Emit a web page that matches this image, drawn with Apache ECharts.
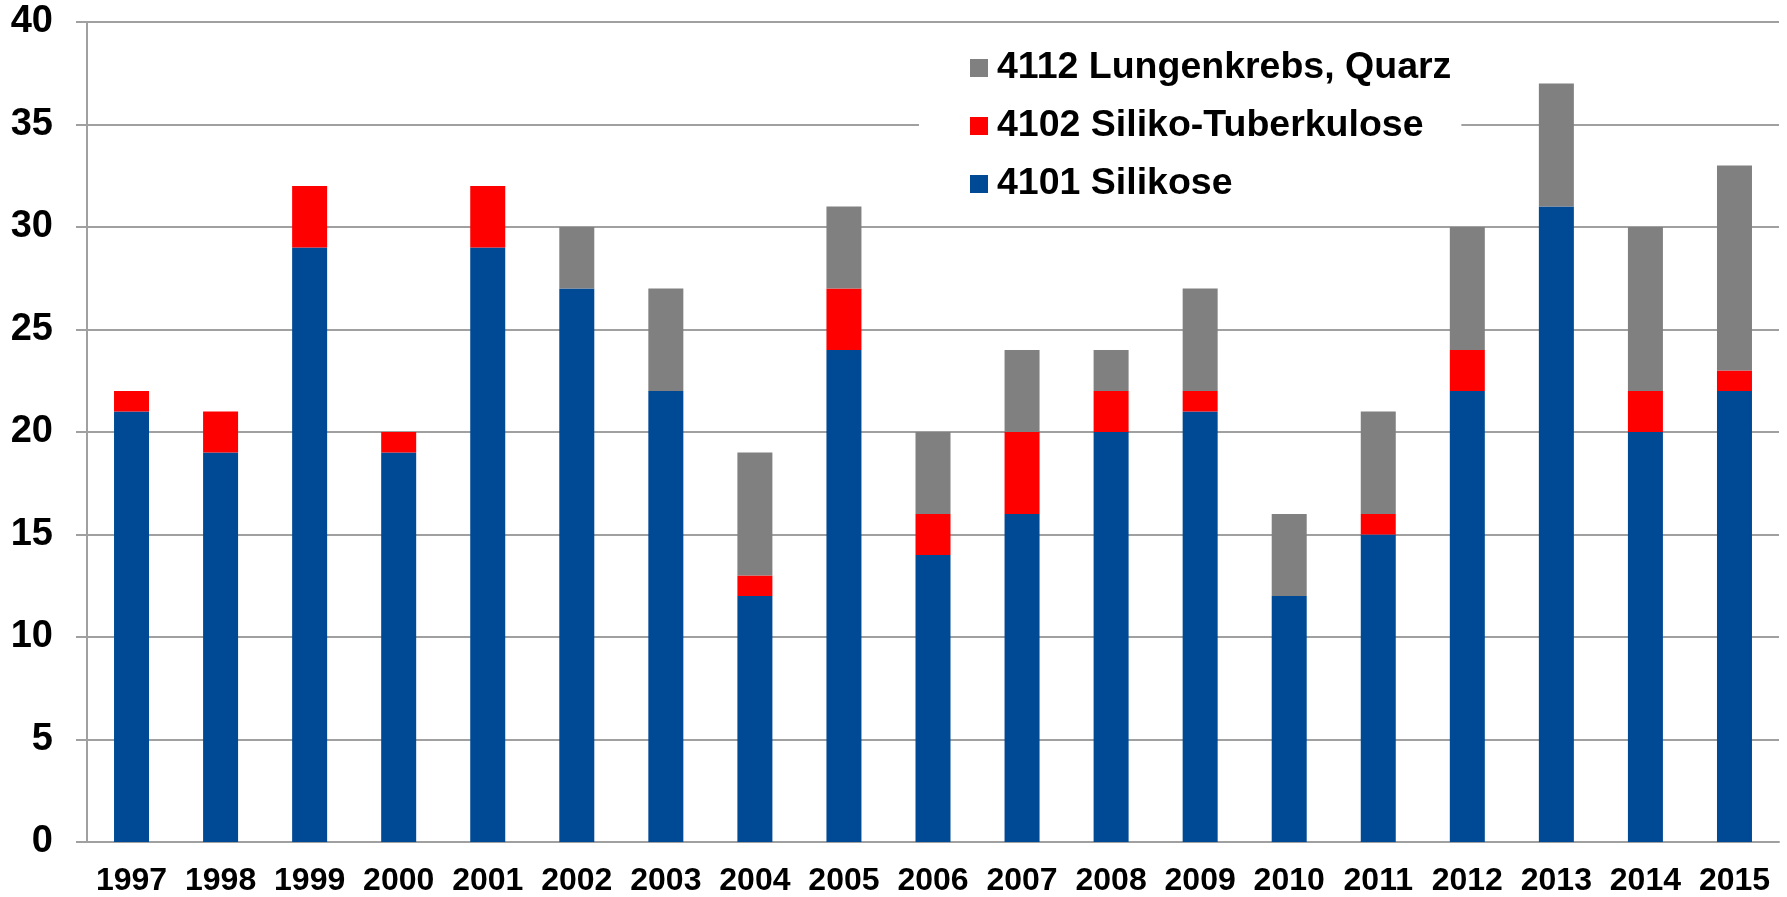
<!DOCTYPE html>
<html>
<head>
<meta charset="utf-8">
<script src="https://cdn.jsdelivr.net/npm/echarts@6/dist/echarts.min.js"></script>
<style>
  html, body { margin: 0; padding: 0; background: #fff; }
  #main { width: 1787px; height: 897px; }
</style>
</head>
<body>
<div id="main"></div>
<script>
var years = ['1997', '1998', '1999', '2000', '2001', '2002', '2003', '2004', '2005', '2006',
             '2007', '2008', '2009', '2010', '2011', '2012', '2013', '2014', '2015'];
// 4101 Silikose
var silikose = [21, 19, 29, 19, 29, 27, 22, 12, 24, 14, 16, 20, 21, 12, 15, 22, 31, 20, 22];
// 4102 Siliko-Tuberkulose
var tuberkulose = [1, 2, 3, 1, 3, 0, 0, 1, 3, 2, 4, 2, 1, 0, 1, 2, 0, 2, 1];
// 4112 Lungenkrebs, Quarz
var lungenkrebs = [0, 0, 0, 0, 0, 3, 5, 6, 4, 4, 4, 2, 5, 4, 5, 6, 6, 8, 10];

var names = ['4101 Silikose', '4102 Siliko-Tuberkulose', '4112 Lungenkrebs, Quarz'];
var font = '"Liberation Sans", Arial, sans-serif';
var lineGray = '#A0A0A0';

var myChart = echarts.init(document.getElementById('main'));
myChart.setOption({
    animation: false,
    textStyle: { fontFamily: font },
    legend: {
        data: [names[2], names[1], names[0]],
        orient: 'vertical',
        left: 919,
        top: 38,
        padding: [10, 10, 10, 51],
        itemGap: 18,
        itemWidth: 18,
        itemHeight: 18,
        icon: 'rect',
        backgroundColor: '#fff',
        textStyle: {
            fontFamily: font,
            fontSize: 37.5,
            fontWeight: 'bold',
            color: '#000',
            lineHeight: 40,
            padding: [0, 0, 0, 4]
        }
    },
    grid: {
        left: 87,
        right: 8,
        top: 22,
        bottom: 53
    },
    xAxis: {
        type: 'category',
        data: years,
        axisLine: { lineStyle: { color: lineGray, width: 2 } },
        axisTick: { length: 8, lineStyle: { color: lineGray, width: 2 } },
        axisLabel: {
            fontFamily: font,
            fontSize: 32,
            fontWeight: 'bold',
            color: '#000',
            margin: 23,
            interval: 0
        }
    },
    yAxis: {
        type: 'value',
        min: 0,
        max: 40,
        interval: 5,
        axisLine: { show: true, lineStyle: { color: lineGray, width: 2 } },
        axisTick: { show: true, length: 11, lineStyle: { color: lineGray, width: 2 } },
        splitLine: { lineStyle: { color: lineGray, width: 2 } },
        axisLabel: {
            fontFamily: font,
            fontSize: 38,
            fontWeight: 'bold',
            color: '#000',
            margin: 34
        }
    },
    series: [
        {
            name: names[0],
            type: 'bar',
            stack: 'total',
            barWidth: 35,
            itemStyle: { color: '#004A95' },
            data: silikose
        },
        {
            name: names[1],
            type: 'bar',
            stack: 'total',
            barWidth: 35,
            itemStyle: { color: '#FF0000' },
            data: tuberkulose
        },
        {
            name: names[2],
            type: 'bar',
            stack: 'total',
            barWidth: 35,
            itemStyle: { color: '#808080' },
            data: lungenkrebs
        }
    ]
});
</script>
</body>
</html>
